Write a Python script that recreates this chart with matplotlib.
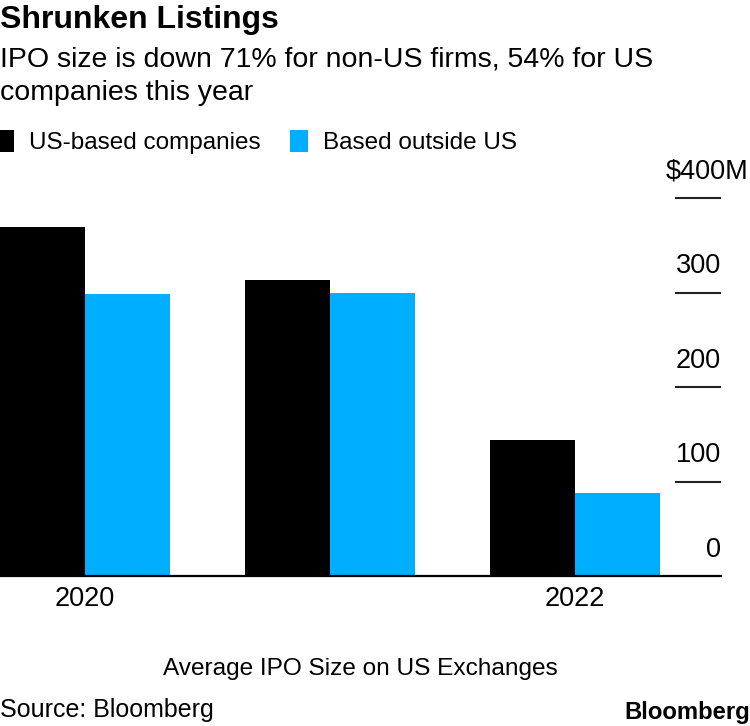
import matplotlib
matplotlib.use("Agg")
import matplotlib.pyplot as plt
import numpy as np

plt.rcParams["font.family"] = ["Liberation Sans", "DejaVu Sans"]

years = ["2020", "2021", "2022"]
year_labels = ["2020", "", "2022"]
us_based = [369, 313, 144]
outside_us = [298, 300, 88]
y_ticks = [0, 100, 200, 300, 400]
y_tick_labels = ["0", "100", "200", "300", "$400M"]

BLACK = "#000000"
BLUE = "#00AEFF"
H = 726

fig = plt.figure(figsize=(7.5, 7.26), dpi=100)
ax = fig.add_axes([0, 1 - 576 / H, 721 / 750, (576 - 198) / H])

x = np.arange(len(years))
w = 0.347
b1 = ax.bar(x - w / 2, us_based, width=w, color=BLACK, label="US-based companies")
b2 = ax.bar(x + w / 2, outside_us, width=w, color=BLUE, label="Based outside US")

ax.set_xlim(-w, (721 - 85) / 245)
ax.set_ylim(0, 400)

for s in ("top", "left", "right"):
    ax.spines[s].set_visible(False)
ax.spines["bottom"].set_linewidth(1.6)

ax.set_xticks(x)
ax.set_xticklabels(year_labels, fontsize=19.5)
ax.tick_params(axis="x", length=0, pad=7)

# right-side value ticks: short lines with labels sitting on top
ax.set_yticks([])
tr = ax.get_yaxis_transform()
for v, lab in zip(y_ticks, y_tick_labels):
    if v > 0:
        ax.plot([675 / 721, 1.0], [v, v], transform=tr,
                color="#222222", lw=1.5, clip_on=False, solid_capstyle="butt")
    # top label carries the unit, so it runs to the figure edge
    xr = 748 / 721 if v == y_ticks[-1] else 1.0
    ax.text(xr, v + 14, lab, transform=tr, ha="right", va="bottom",
            fontsize=19.5, clip_on=False)

ax.set_xlabel("Average IPO Size on US Exchanges", fontsize=17.6, labelpad=33)

fig.text(0.0, 1 - 28 / H, "Shrunken Listings", fontsize=23, fontweight="bold",
         ha="left", va="baseline")
fig.text(0.0, 1 - 67 / H, "IPO size is down 71% for non-US firms, 54% for US",
         fontsize=20.5, ha="left", va="baseline")
fig.text(0.0, 1 - 100 / H, "companies this year",
         fontsize=20.5, ha="left", va="baseline")

fig.legend(handles=[b1, b2], loc="upper left", bbox_to_anchor=(-0.005, 1 - 130 / H),
           ncol=2, frameon=False, fontsize=17.5, handlelength=0.75, handleheight=1.0,
           handletextpad=0.6, columnspacing=1.2, borderpad=0, borderaxespad=0)

fig.text(0.0, 1 - 710 / H, "Source: Bloomberg", fontsize=18, ha="left", va="center")
fig.text(1.0, 1 - 712 / H, "Bloomberg", fontsize=17.2, fontweight="bold",
         ha="right", va="center")

fig.savefig("out.png", dpi=100)
